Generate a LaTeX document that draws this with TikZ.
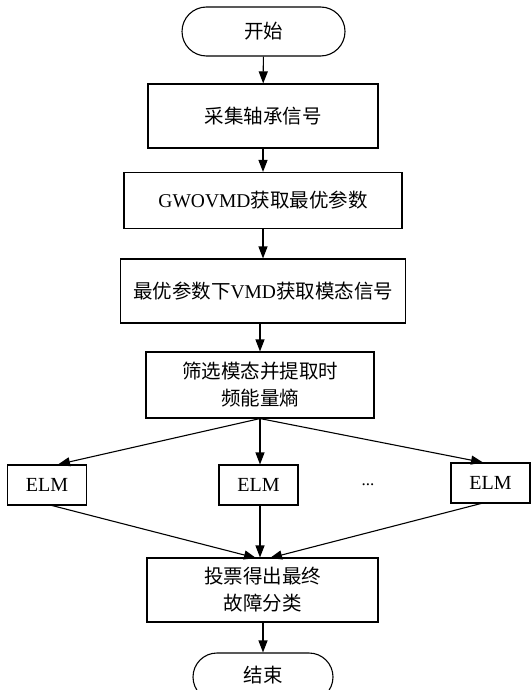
\documentclass[tikz,border=0pt]{standalone}
\usepackage{fontspec}
\setmainfont{Liberation Serif}
\newfontfamily\cjk{Noto Sans CJK SC}
\usetikzlibrary{arrows.meta,shapes.misc}
\newcommand{\zh}[1]{{\cjk #1}}
\begin{document}
\begin{tikzpicture}[x=1pt,y=-1pt,
  box/.style={draw,line width=1.1pt,rectangle,align=center,inner sep=0pt,font=\fontsize{19.5}{27}\selectfont},
  term/.style={draw,line width=1.1pt,rounded rectangle,inner sep=0pt,font=\fontsize{19.5}{27}\selectfont},
  elm/.style={draw,line width=1.1pt,rectangle,minimum width=79pt,minimum height=40pt,inner sep=0pt,font=\fontsize{20}{22}\selectfont},
  arr/.style={-{Triangle[length=12pt,width=9pt]},line width=1.1pt}]
\useasboundingbox (0,0) rectangle (530,690);
\node[term,minimum width=163pt,minimum height=49pt] (start) at (263.5,31.5) {\zh{开始}};
\node[box,minimum width=230pt,minimum height=64pt] (b1) at (263,116) {\zh{采集轴承信号}};
\node[box,minimum width=278pt,minimum height=56pt] (b2) at (263,200.5) {GWOVMD\zh{获取最优参数}};
\node[box,minimum width=285pt,minimum height=64pt] (b3) at (263,291) {\zh{最优参数下}VMD\zh{获取模态信号}};
\node[box,minimum width=228pt,minimum height=66pt] (b4) at (260,385) {\zh{筛选模态并提取时}\\\zh{频能量熵}};
\node[elm] (e1) at (47,485) {ELM};
\node[elm] (e2) at (258.5,485) {ELM};
\node[elm] (e3) at (490.5,483) {ELM};
\node[font=\fontsize{17}{20}\selectfont] (dots) at (368,485) {...};
\node[box,minimum width=231pt,minimum height=64pt] (b5) at (262.5,590) {\zh{投票得出最终}\\\zh{故障分类}};
\node[term,minimum width=140pt,minimum height=48pt] (end) at (263,677) {\raisebox{6pt}{\zh{结束}}};
\draw[arr] (start) -- (b1);
\draw[arr] (b1) -- (b2);
\draw[arr] (b2) -- (b3);
\draw[arr] (b3.south -| b4.south) -- (b4.south |- b4.north);
\draw[arr] (b4.south) -- (e1.north -| 58,0);
\draw[arr] (b4.south) -- (b4.south |- e2.north);
\draw[arr] (b4.south) -- (e3.north -| 483,0);
\coordinate (e1b) at (50,505);
\coordinate (e3b) at (483,503);
\draw[arr] (e1b) -- (256,558);
\draw[arr] (e2.south -| b4.south) -- (b5.north -| b4.south);
\draw[arr] (e3b) -- (270,558);
\draw[arr] (b5.south -| end.north) -- (end.north);
\end{tikzpicture}
\end{document}
